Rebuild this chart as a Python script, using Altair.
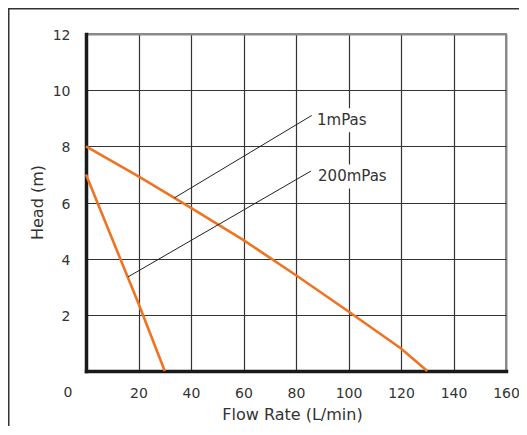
import altair as alt
import pandas as pd

# ---- data ----
flow_1mpas = [0, 20, 40, 60, 80, 100, 120, 130]
head_1mpas = [8.0, 6.93, 5.81, 4.66, 3.41, 2.12, 0.80, 0.0]

flow_200mpas = [0, 20, 30]
head_200mpas = [7.0, 2.4, 0.0]

label_names = ["1mPas", "200mPas"]
leader_x0 = [33.6, 16.0]
leader_y0 = [6.16, 3.35]
leader_x1 = [86.0, 85.7]
leader_y1 = [9.10, 7.12]
label_x = [88.0, 88.4]
label_y = [8.93, 6.93]

x_ticks = [0, 20, 40, 60, 80, 100, 120, 140, 160]
y_ticks = [0, 2, 4, 6, 8, 10, 12]

FONT = "DejaVu Sans"
ORANGE = "#F07322"
TXT = "#333333"

curves = pd.DataFrame(
    {
        "series": ["1mPas"] * len(flow_1mpas) + ["200mPas"] * len(flow_200mpas),
        "flow": flow_1mpas + flow_200mpas,
        "head": head_1mpas + head_200mpas,
    }
)

leaders = pd.DataFrame(
    {
        "label": label_names * 2,
        "flow": leader_x0 + leader_x1,
        "head": leader_y0 + leader_y1,
    }
)

labels = pd.DataFrame(
    {
        "label": label_names,
        "flow": label_x,
        "head": label_y,
    }
)

origin = pd.DataFrame({"flow": [0], "head": [0], "t": ["0"]})

x_scale = alt.Scale(domain=[0, 160], nice=False, zero=True)
y_scale = alt.Scale(domain=[0, 12], nice=False, zero=True)

x_axis = alt.Axis(
    values=x_ticks,
    labelExpr="datum.value == 0 ? '' : datum.label",
    ticks=False,
    domainColor="#1a1a1a",
    domainWidth=3.5,
    domainCap="square",
    gridColor={"condition": {"test": "datum.value == 160", "value": "#8a8a8a"}, "value": "#333333"},
    gridWidth={"condition": {"test": "datum.value == 160", "value": 2}, "value": 1.2},
    labelFont=FONT,
    labelFontSize=14,
    labelColor=TXT,
    labelPadding=15,
    labelFlush=False,
    labelOverlap=False,
    title="Flow Rate (L/min)",
    titleFont=FONT,
    titleFontSize=16,
    titleFontWeight="normal",
    titleColor=TXT,
    titleX=206,
    titleY=43.5,
    titleBaseline="middle",
    titleAlign="center",
)

y_axis = alt.Axis(
    values=y_ticks,
    labelExpr="datum.value == 0 ? '' : datum.label",
    ticks=False,
    domainColor="#1a1a1a",
    domainWidth=3.5,
    domainCap="square",
    gridColor={"condition": {"test": "datum.value == 12", "value": "#8a8a8a"}, "value": "#333333"},
    gridWidth={"condition": {"test": "datum.value == 12", "value": 2}, "value": 1.2},
    labelFont=FONT,
    labelFontSize=14,
    labelColor=TXT,
    labelPadding=16,
    labelOffset=1.5,
    labelFlush=False,
    labelOverlap=False,
    title="Head (m)",
    titleFont=FONT,
    titleFontSize=16,
    titleFontWeight="normal",
    titleColor=TXT,
    titleX=-49,
    titleY=168,
    titleAngle=-90,
    titleBaseline="middle",
    titleAlign="center",
)

X = alt.X("flow:Q", scale=x_scale, axis=x_axis)
Y = alt.Y("head:Q", scale=y_scale, axis=y_axis)

frame = (
    alt.Chart(alt.Data(values=[{"a": 1}]))
    .mark_rect(fillOpacity=0, stroke="#333333", strokeWidth=2)
    .encode(
        x=alt.value(-77.5),
        x2=alt.value(700),
        y=alt.value(-25.5),
        y2=alt.value(700),
    )
)

curve_lines = (
    alt.Chart(curves)
    .mark_line(color=ORANGE, strokeWidth=2.6)
    .encode(x=X, y=Y, detail="series:N", order="flow:Q")
)

leader_lines = (
    alt.Chart(leaders)
    .mark_line(color="#222222", strokeWidth=1)
    .encode(x=X, y=Y, detail="label:N")
)

# white backing boxes behind the curve labels (hide the grid under the text)
label_boxes = (
    alt.Chart(labels)
    .mark_point(filled=True, fill="white", opacity=1, strokeWidth=0, size=576)
    .encode(
        x=X,
        y=Y,
        shape=alt.Shape(
            "label:N",
            scale=alt.Scale(
                domain=label_names,
                range=["M-0.05,-1H4.3V1H-0.05Z", "M-0.05,-1H6.1V1H-0.05Z"],
            ),
            legend=None,
        ),
    )
)

label_text = (
    alt.Chart(labels)
    .mark_text(align="left", baseline="middle", font=FONT, fontSize=15, color=TXT)
    .encode(x=X, y=Y, text="label:N")
)

origin_text = (
    alt.Chart(origin)
    .mark_text(align="center", baseline="middle", font=FONT, fontSize=14, color=TXT, dx=-18, dy=22)
    .encode(x=X, y=Y, text="t:N")
)

chart = (
    alt.layer(frame, curve_lines, leader_lines, label_boxes, label_text, origin_text)
    .properties(
        width=420,
        height=337,
        autosize=alt.AutoSizeParams(type="none"),
        padding={"left": 78, "top": 26, "right": 13, "bottom": 55},
        background="white",
    )
    .configure_view(stroke="#8a8a8a", strokeWidth=2)
)

chart.save("out.html", embed_options={"renderer": "svg", "actions": False})
